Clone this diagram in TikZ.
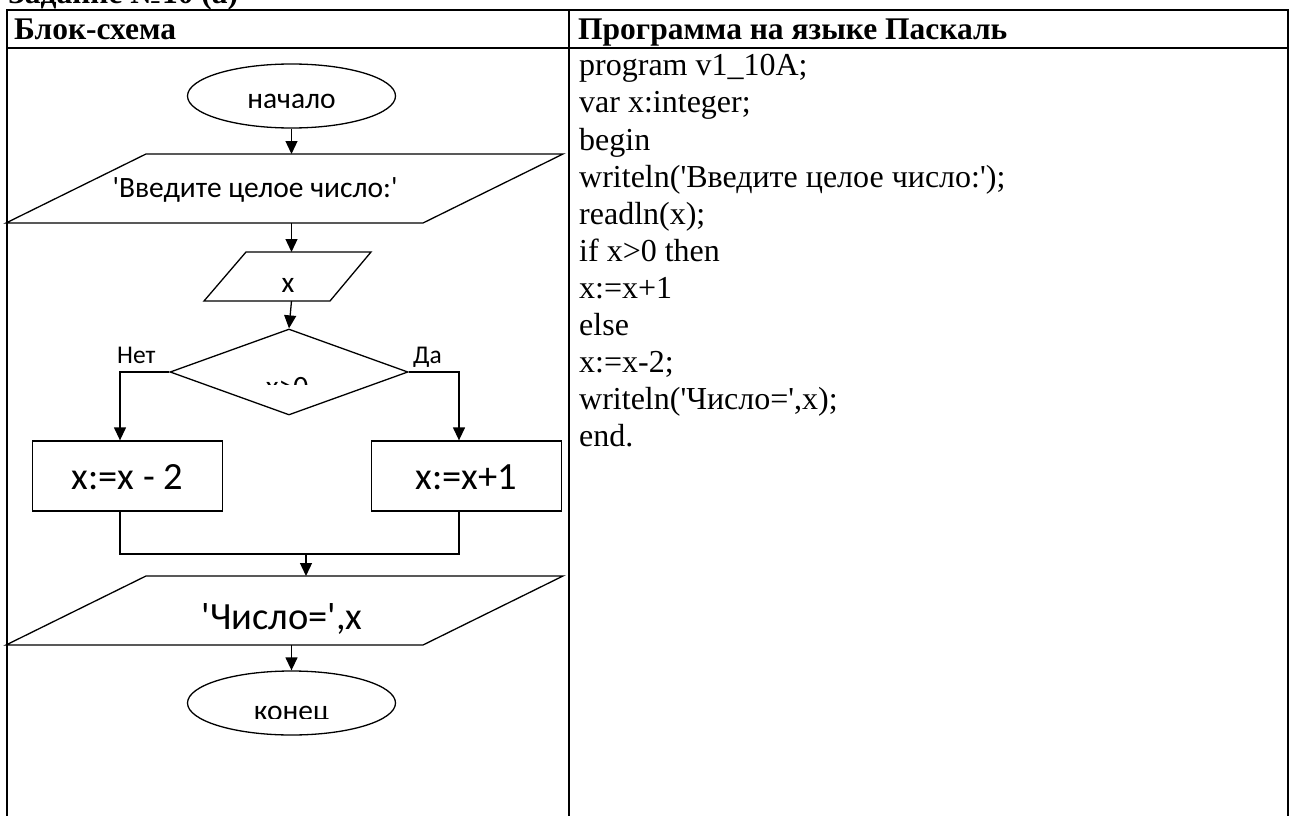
\documentclass[tikz,border=0pt]{standalone}
\usepackage{fontspec}
\setmainfont{Liberation Serif}
\newfontfamily\calfont{Carlito}
\usetikzlibrary{shapes.geometric,arrows.meta}
\def\sq{\XeTeXglyph\XeTeXcharglyph"27\relax}
\begin{document}
\begin{tikzpicture}[x=1pt,y=-1pt,
  fl/.style={line width=1.3pt},
  arr/.style={line width=1.3pt,-{Triangle[length=13pt,width=12pt]}},
  tbl/.style={line width=2.6pt},
  ftxt/.style={inner sep=0pt,anchor=base,font=\calfont\fontsize{29.5}{34}\selectfont},
  btxt/.style={inner sep=0pt,anchor=base,font=\calfont\fontsize{38.5}{44}\selectfont},
  ltxt/.style={inner sep=0pt,anchor=base west,font=\calfont\fontsize{25.5}{30}\selectfont},
  hdr/.style={inner sep=0pt,anchor=base west,font=\bfseries\fontsize{31.5}{37}\selectfont},
  code/.style={inner sep=0pt,anchor=base west,font=\fontsize{32}{37}\selectfont},
  term/.style={ellipse,draw,line width=1.3pt,inner sep=0pt,minimum width=208pt,minimum height=64pt},
  proc/.style={rectangle,draw,line width=1.3pt,inner sep=0pt,minimum width=190pt,minimum height=70pt}]
\useasboundingbox (0,0) rectangle (1291,816);
\clip (0,0) rectangle (1291,816);
% table
\draw[tbl] (7,10) rectangle (1288,840);
\draw[tbl] (7,48) -- (1288,48);
\draw[tbl] (569,10) -- (569,840);
\node[hdr] (title) at (8,4) {Задание №10 (а)};
\node[hdr] (h1) at (14,40) {Блок-схема};
\node[hdr] (h2) at (578,40) {Программа на языке Паскаль};
% code
\node[code] (c1) at (579,76) {program v1\_10A;};
\node[code] (c2) at (579,113) {var x:integer;};
\node[code] (c3) at (579,150) {begin};
\node[code] (c4) at (579,187) {writeln(\sq Введите целое число:\sq);};
\node[code] (c5) at (579,224) {readln(x);};
\node[code] (c6) at (579,261) {if x>0 then};
\node[code] (c7) at (579,298) {x:=x+1};
\node[code] (c8) at (579,335) {else};
\node[code] (c9) at (579,372) {x:=x-2;};
\node[code] (c10) at (579,409) {writeln(\sq Число=\sq,x);};
\node[code] (c11) at (579,446) {end.};
% flowchart
\node[term] (start) at (291.5,96) {};
\begin{scope}
  \clip (185,60) rectangle (400,107);
  \node[ftxt] (startt) at (291.5,108) {начало};
\end{scope}
\coordinate (p1t) at (291.5,154);
\coordinate (p1b) at (291.5,223);
\draw[fl] (146,154) -- (563,154) -- (423,223) -- (6,223) -- cycle;
\node[ftxt] (in1) at (255,197) {\sq Введите целое число:\sq};
\coordinate (p2t) at (291.5,252);
\coordinate (p2b) at (291.5,301);
\draw[fl] (246,252) -- (371,252) -- (330,301) -- (204,301) -- cycle;
\node[ftxt] (in2) at (288,292) {x};
\node[diamond,draw,fl,inner sep=0pt,minimum width=238pt,minimum height=86pt,aspect=2.77] (cond) at (289,372) {};
\begin{scope}
  \clip (240,360) rectangle (340,384);
  \node[ftxt] (condt) at (287,396) {x>0};
\end{scope}
\node[ltxt] (no) at (117,363) {Нет};
\node[ltxt] (yes) at (413,363) {Да};
\node[proc] (left) at (127.5,476) {};
\node[btxt] (leftt) at (127.5,489) {x:=x - 2};
\node[proc] (right) at (466.5,476) {};
\node[btxt] (rightt) at (466.5,489) {x:=x+1};
\coordinate (nl) at (120,372);
\coordinate (yr) at (459,372);
\coordinate (ml) at (120,554);
\coordinate (mr) at (459,554);
\coordinate (mm) at (306,554);
\coordinate (p3t) at (306,576);
\coordinate (p3b) at (291.5,645);
\draw[fl] (146,576) -- (563,576) -- (423,645) -- (6,645) -- cycle;
\node[btxt] (out) at (282,629) {\sq Число=\sq,x};
\node[term] (stop) at (291.5,703) {};
\begin{scope}
  \clip (185,690) rectangle (400,718);
  \node[ftxt] (stopt) at (291.5,720) {конец};
\end{scope}
% connectors
\draw[arr] (start.south) -- (p1t);
\draw[arr] (p1b) -- (p2t);
\draw[arr] (p2b) -- (cond.north);
\draw[arr] (cond.west) -- (nl) -- (left.north -| nl);
\draw[arr] (cond.east) -- (yr) -- (right.north -| yr);
\draw[fl] (left.south -| ml) -- (ml) -- (mr) -- (right.south -| mr);
\draw[arr] (mm) -- (p3t);
\draw[arr] (p3b) -- (stop.north);
\end{tikzpicture}
\end{document}
